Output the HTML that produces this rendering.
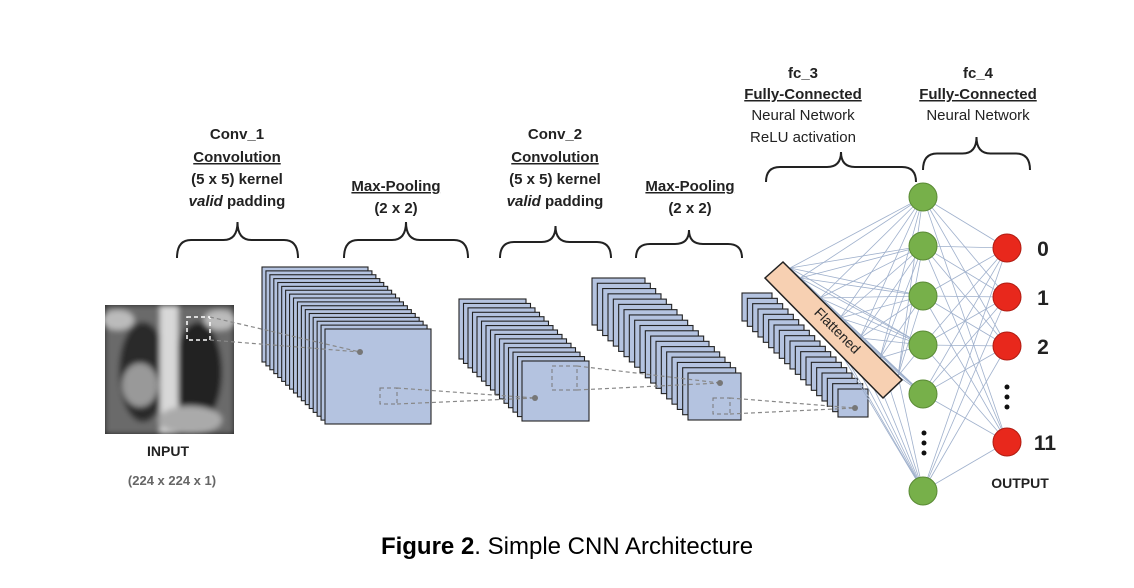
<!DOCTYPE html>
<html><head><meta charset="utf-8"><style>
html,body{margin:0;padding:0;background:#fff;}
svg{display:block;}
.t{font-family:"Liberation Sans",sans-serif;fill:#222;font-size:15px;text-anchor:middle;}
.b{font-weight:bold;}
</style></head><body>
<svg id="s" width="1134" height="588" viewBox="0 0 1134 588" xmlns="http://www.w3.org/2000/svg">
<defs>
<filter id="bl"><feGaussianBlur stdDeviation="3"/></filter>
<clipPath id="xc"><rect x="105" y="305" width="129" height="129"/></clipPath>
</defs>
<!-- xray -->
<rect x="105" y="305" width="129" height="129" fill="#222"/>
<g filter="url(#bl)" clip-path="url(#xc)">
<rect x="105" y="305" width="129" height="129" fill="#6a6a6a"/>
<ellipse cx="143" cy="372" rx="24" ry="50" fill="#2a2a2a"/>
<ellipse cx="198" cy="372" rx="24" ry="50" fill="#222"/>
<rect x="160" y="305" width="18" height="129" fill="#d8d8d8"/>
<ellipse cx="140" cy="385" rx="18" ry="22" fill="#999"/>
<ellipse cx="190" cy="420" rx="32" ry="14" fill="#aaa"/>
<ellipse cx="118" cy="320" rx="16" ry="10" fill="#bbb"/>
<ellipse cx="220" cy="320" rx="16" ry="10" fill="#bbb"/>
</g>
<rect x="187" y="317" width="23" height="23" fill="none" stroke="#fff" stroke-width="1.5" stroke-dasharray="4,3"/>
<g id="stacks"></g>
<g id="nn"></g>
<!-- labels -->
<text class="t b" x="237" y="139">Conv_1</text>
<text class="t b" x="237" y="162" text-decoration="underline">Convolution</text>
<text class="t b" x="237" y="184">(5 x 5) kernel</text>
<text class="t b" x="237" y="206"><tspan font-style="italic">valid</tspan> padding</text>
<text class="t b" x="396" y="191" text-decoration="underline">Max-Pooling</text>
<text class="t b" x="396" y="213">(2 x 2)</text>
<text class="t b" x="555" y="139">Conv_2</text>
<text class="t b" x="555" y="162" text-decoration="underline">Convolution</text>
<text class="t b" x="555" y="184">(5 x 5) kernel</text>
<text class="t b" x="555" y="206"><tspan font-style="italic">valid</tspan> padding</text>
<text class="t b" x="690" y="191" text-decoration="underline">Max-Pooling</text>
<text class="t b" x="690" y="213">(2 x 2)</text>
<text class="t b" x="803" y="78">fc_3</text>
<text class="t b" x="803" y="99" text-decoration="underline">Fully-Connected</text>
<text class="t" x="803" y="120">Neural Network</text>
<text class="t" x="803" y="142">ReLU activation</text>
<text class="t b" x="978" y="78">fc_4</text>
<text class="t b" x="978" y="99" text-decoration="underline">Fully-Connected</text>
<text class="t" x="978" y="120">Neural Network</text>
<text class="t b" x="168" y="456" style="font-size:14px">INPUT</text>
<text class="t b" x="172" y="485" style="font-size:13px;fill:#666">(224 x 224 x 1)</text>
<text class="t b" x="1020" y="488" style="font-size:14px">OUTPUT</text>
<text class="t b" x="1043" y="256" style="font-size:21px">0</text>
<text class="t b" x="1043" y="305" style="font-size:21px">1</text>
<text class="t b" x="1043" y="354" style="font-size:21px">2</text>
<text class="t b" x="1045" y="450" style="font-size:21px">11</text>
<g fill="#111"><circle cx="1007" cy="387" r="2.5"/><circle cx="1007" cy="397" r="2.5"/><circle cx="1007" cy="407" r="2.5"/>
<circle cx="924" cy="433" r="2.5"/><circle cx="924" cy="443" r="2.5"/><circle cx="924" cy="453" r="2.5"/></g>
<g fill="none" stroke="#222" stroke-width="2" id="br"></g>
<text x="567" y="554" style="font-family:'Liberation Sans',sans-serif;font-size:24px;fill:#000" text-anchor="middle"><tspan font-weight="bold">Figure 2</tspan>. Simple CNN Architecture</text>
</svg>
<script>
var NS="http://www.w3.org/2000/svg";
function el(p,t,a){var e=document.createElementNS(NS,t);for(var k in a)e.setAttribute(k,a[k]);p.appendChild(e);return e;}
var st=document.getElementById("stacks");
function stack(bx,by,fx,fy,w,h,n){for(var i=0;i<n;i++){var x=bx+(fx-bx)*i/(n-1),y=by+(fy-by)*i/(n-1);
el(st,"rect",{x:x,y:y,width:w,height:h,fill:"#b4c3e0",stroke:"#222","stroke-width":1.1});}}
stack(262,267,325,329,106,95,17);
stack(459,299,522,361,67,60,15);
stack(592,278,688,373,53,47,19);
stack(742,293,838,389,30,28,19);
function dash(x,y,w,h){el(st,"rect",{x:x,y:y,width:w,height:h,fill:"none",stroke:"#777","stroke-dasharray":"4,3"});}
function dl(x1,y1,x2,y2){el(st,"line",{x1:x1,y1:y1,x2:x2,y2:y2,stroke:"#888","stroke-dasharray":"4,3","stroke-width":1.2});}
dl(210,317,360,352);dl(210,340,360,352);el(st,"circle",{cx:360,cy:352,r:3,fill:"#777"});
dash(380,388,17,16);dl(397,388,535,398);dl(397,404,535,398);el(st,"circle",{cx:535,cy:398,r:3,fill:"#777"});
dash(552,366,25,24);dl(577,366,720,383);dl(577,390,720,383);el(st,"circle",{cx:720,cy:383,r:3,fill:"#777"});
dash(713,398,17,16);dl(730,398,855,408);dl(730,414,855,408);el(st,"circle",{cx:855,cy:408,r:3,fill:"#777"});
var nn=document.getElementById("nn");
var G=[197,246,296,345,394,491],R=[248,297,346,442];
var F=[[790,268],[800,278],[820,298],[840,318],[860,338],[880,358],[898,376]];
F.forEach(function(f){G.forEach(function(g){el(nn,"line",{x1:f[0],y1:f[1],x2:923,y2:g,stroke:"#9fb0cc","stroke-width":0.8});});});
G.forEach(function(g){R.forEach(function(r){el(nn,"line",{x1:923,y1:g,x2:1007,y2:r,stroke:"#9fb0cc","stroke-width":0.8});});});
el(nn,"polygon",{points:"765,278 783,262 902,380 883,398",fill:"#f7d0b2",stroke:"#222","stroke-width":1.5});
var t=el(nn,"text",{x:834,y:334,transform:"rotate(45 834 334)","text-anchor":"middle",style:"font-family:'Liberation Sans',sans-serif;font-size:14px;fill:#222"});t.textContent="Flattened";
G.forEach(function(g){el(nn,"circle",{cx:923,cy:g,r:14,fill:"#77b04a",stroke:"#5a8a35","stroke-width":1});});
R.forEach(function(r){el(nn,"circle",{cx:1007,cy:r,r:14,fill:"#e8281c",stroke:"#b01c12","stroke-width":1});});
var br=document.getElementById("br");
function brace(x1,x2,yt,yb){var xm=(x1+x2)/2,ym=(yt+yb)/2,w=14;
el(br,"path",{d:"M"+x1+","+yb+" Q"+x1+","+ym+" "+(x1+w)+","+ym+" L"+(xm-w)+","+ym+" Q"+xm+","+ym+" "+xm+","+yt+" Q"+xm+","+ym+" "+(xm+w)+","+ym+" L"+(x2-w)+","+ym+" Q"+x2+","+ym+" "+x2+","+yb});}
brace(177,298,222,258);brace(344,468,222,258);brace(500,611,226,258);brace(636,742,230,258);
brace(766,916,152,182);brace(923,1030,137,170);
</script>
</body></html>
